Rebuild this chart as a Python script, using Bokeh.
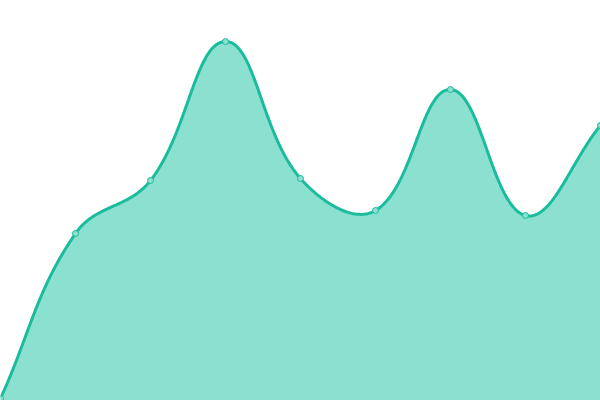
import math
from bokeh.plotting import figure
from bokeh.models import Range1d
from bokeh.embed import file_html
from bokeh.resources import INLINE

# Data
x_index = [0, 1, 2, 3, 4, 5, 6, 7, 8]
values = [2, 167, 220, 359, 222, 190, 311, 185, 275]

LINE = "#1abc9c"
FILL = "#8be0d0"

W, H = 600, 400
X0, X1 = 0, 8
Y0, Y1 = 0, 400
sx = W / (X1 - X0)
sy = H / (Y1 - Y0)

# Chart.js-style cardinal spline (tension 0.4) computed in screen space
pts = [((x - X0) * sx, (y - Y0) * sy) for x, y in zip(x_index, values)]
tension = 0.4
n = len(pts)
cp_prev, cp_next = [], []
for i in range(n):
    cur = pts[i]
    prev = pts[i - 1] if i > 0 else cur
    nxt = pts[i + 1] if i < n - 1 else cur
    d01 = math.dist(prev, cur)
    d12 = math.dist(cur, nxt)
    tot = d01 + d12
    s01 = d01 / tot if tot else 0
    s12 = d12 / tot if tot else 0
    fa = tension * s01
    fb = tension * s12
    cp_prev.append((cur[0] - fa * (nxt[0] - prev[0]), cur[1] - fa * (nxt[1] - prev[1])))
    cp_next.append((cur[0] + fb * (nxt[0] - prev[0]), cur[1] + fb * (nxt[1] - prev[1])))

cx, cy = [], []
steps = 60
for i in range(n - 1):
    p0 = pts[i]
    c1 = cp_next[i]
    c2 = cp_prev[i + 1]
    p3 = pts[i + 1]
    for k in range(steps + (1 if i == n - 2 else 0)):
        t = k / steps
        a = (1 - t) ** 3
        b = 3 * (1 - t) ** 2 * t
        c = 3 * (1 - t) * t ** 2
        d = t ** 3
        X = a * p0[0] + b * c1[0] + c * c2[0] + d * p3[0]
        Y = a * p0[1] + b * c1[1] + c * c2[1] + d * p3[1]
        cx.append(X / sx + X0)
        cy.append(Y / sy + Y0)

p = figure(width=W, height=H, output_backend="svg", toolbar_location=None,
           x_range=Range1d(X0, X1), y_range=Range1d(Y0, Y1), min_border=0)
p.axis.visible = False
p.grid.visible = False
p.outline_line_color = None
p.background_fill_color = "white"
p.border_fill_color = "white"

p.varea(x=cx, y1=[Y0] * len(cx), y2=cy, fill_color=FILL, fill_alpha=1.0)
p.line(x=cx, y=cy, line_color=LINE, line_width=3)
p.scatter(x=x_index, y=values, size=6, fill_color=FILL, line_color=LINE, line_width=1)

open("out.html", "w").write(file_html(p, INLINE))
